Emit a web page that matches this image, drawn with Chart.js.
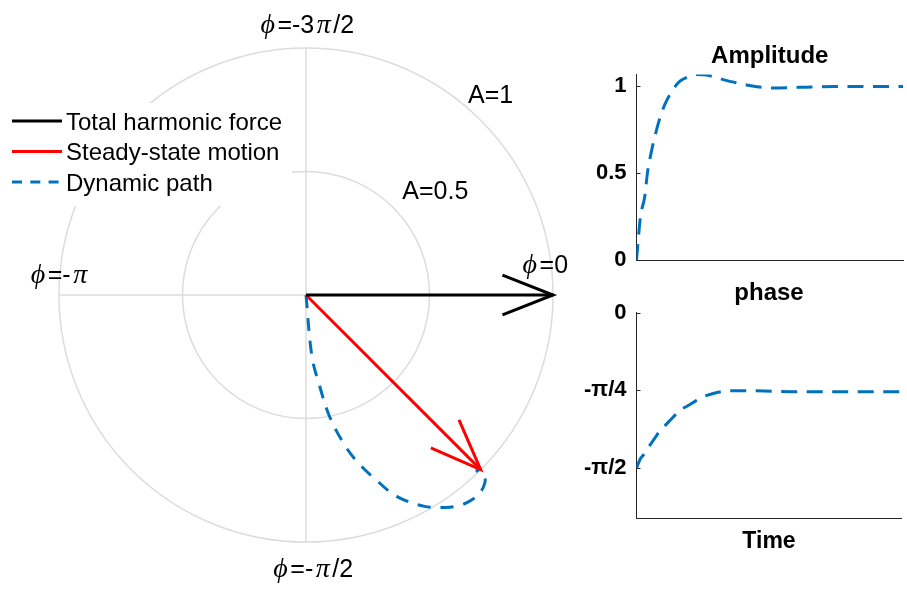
<!DOCTYPE html>
<html>
<head>
<meta charset="utf-8">
<script src="https://cdn.jsdelivr.net/npm/chart.js@4.4.0/dist/chart.umd.min.js"></script>
<style>
  html, body { margin: 0; padding: 0; background: #fff; }
  #wrap { position: relative; width: 907px; height: 591px; overflow: hidden; background: #fff; }
  #wrap canvas { position: absolute; }
  #polar { left: 0; top: 0; }
  #amp { left: 560px; top: 30px; }
  #phs { left: 560px; top: 275px; }
</style>
</head>
<body>
<div id="wrap">
  <canvas id="polar" width="600" height="591"></canvas>
  <canvas id="amp" width="347" height="270"></canvas>
  <canvas id="phs" width="347" height="316"></canvas>
</div>
<script>
// ---- data ---------------------------------------------------------------
const time      = [0, 0.15, 0.31, 0.41, 0.56, 0.69, 0.84, 1.06, 1.37, 1.63, 1.95, 2.25, 2.63, 3.0, 3.32, 3.8, 4.25, 5.13, 6.13, 7.39, 8.6, 10];
const amplitude = [0, 0.25, 0.365, 0.50, 0.625, 0.711, 0.798, 0.894, 0.981, 1.029, 1.055, 1.067, 1.064, 1.05, 1.035, 1.018, 1.004, 0.99, 0.994, 0.998, 0.999, 0.999];
const phase     = [-1.571, -1.475, -1.425, -1.38, -1.32, -1.27, -1.21, -1.148, -1.06, -0.99, -0.94, -0.89, -0.84, -0.81, -0.795, -0.79, -0.79, -0.795, -0.80, -0.80, -0.80, -0.80];

const forceAmp = [1];
const forcePhase = [0];
const steadyAmp = [1];
const steadyPhase = [-Math.PI / 4];

const seriesNames = ['Total harmonic force', 'Steady-state motion', 'Dynamic path'];

const ringRadii  = [0.5, 1];
const ringLabels = ['A=0.5', 'A=1'];
const spokeAngles = [0, -Math.PI / 2, -Math.PI, -3 * Math.PI / 2];
const spokeLabels = ['ϕ=0', 'ϕ=-π/2', 'ϕ=-π', 'ϕ=-3π/2'];

const ampTickValues = [0, 0.5, 1];
const ampTickLabels = ['0', '0.5', '1'];
const phaseTickValues = [0, -Math.PI / 4, -Math.PI / 2];
const phaseTickLabels = ['0', '-π/4', '-π/2'];

// ---- styling ------------------------------------------------------------
const BLUE = '#0072BD', RED = '#FF0000', BLACK = '#000000';
const GRID = '#dcdcdc', AXIS = '#262626';
const SANS = "'Liberation Sans', Arial, Helvetica, sans-serif";
const SERIF = "'Liberation Serif', 'DejaVu Serif', serif";
const HEAD_LEN = 0.22, HEAD_ANGLE = 0.375;   // arrowhead barb length (data units) and half-angle

// offsets (px) of the text labels from their anchor points
const spokeLabelOffset = [[-9, -31.5], [6, 0], [0, -21], [0, 0]];
const spokeLabelRadius = [1, 1.105, 1, 1.099];
const ringLabelOffset = [[42, -18], [10, -26]];

// ---- helpers ------------------------------------------------------------
const toXY = (a, p) => ({ x: a * Math.cos(p), y: a * Math.sin(p) });

function headPoints(a, p) {
  const tip = toXY(a, p);
  const b1 = { x: tip.x - HEAD_LEN * Math.cos(p + HEAD_ANGLE), y: tip.y - HEAD_LEN * Math.sin(p + HEAD_ANGLE) };
  const b2 = { x: tip.x - HEAD_LEN * Math.cos(p - HEAD_ANGLE), y: tip.y - HEAD_LEN * Math.sin(p - HEAD_ANGLE) };
  return [b1, tip, b2];
}

// split a label into runs; greek letters are set in an italic serif face
function runs(str) {
  const out = [];
  for (const ch of str) {
    const g = /[ϕπ]/.test(ch);
    if (out.length && out[out.length - 1].g === g) out[out.length - 1].t += ch;
    else out.push({ t: ch, g });
  }
  return out;
}
function drawRich(ctx, str, cx, cy, size, greekSize, greekPad) {
  const parts = runs(str);
  const fonts = parts.map(p => p.g ? `italic ${greekSize}px ${SERIF}` : `${size}px ${SANS}`);
  const widths = parts.map((p, i) => {
    ctx.font = fonts[i];
    return ctx.measureText(p.t).width + (p.g ? 2 * greekPad : 0);
  });
  const w = widths.reduce((s, v) => s + v, 0);
  let x = cx - w / 2;
  ctx.textAlign = 'left';
  ctx.textBaseline = 'alphabetic';
  ctx.fillStyle = BLACK;
  parts.forEach((p, i) => {
    ctx.font = fonts[i];
    ctx.fillText(p.t, x + (p.g ? greekPad : 0), cy + size * 0.36);
    x += widths[i];
  });
}

// ---- polar (phasor) diagram --------------------------------------------
const polarGrid = {
  id: 'polarGrid',
  beforeDatasetsDraw(chart) {
    const { ctx, scales: { x, y } } = chart;
    const cx = x.getPixelForValue(0), cy = y.getPixelForValue(0);
    ctx.save();
    ctx.strokeStyle = GRID;
    ctx.lineWidth = 1.5;
    spokeAngles.forEach(a => {
      const p = toXY(1, a);
      ctx.beginPath();
      ctx.moveTo(cx, cy);
      ctx.lineTo(x.getPixelForValue(p.x), y.getPixelForValue(p.y));
      ctx.stroke();
    });
    ringRadii.forEach(r => {
      const R = x.getPixelForValue(r) - cx;
      ctx.beginPath();
      ctx.arc(cx, cy, R, 0, Math.PI * 2);
      ctx.stroke();
    });
    ctx.restore();
  },
  afterDatasetsDraw(chart) {
    const { ctx, scales: { x, y } } = chart;
    ctx.save();
    // ring labels
    ringRadii.forEach((r, i) => {
      const p = toXY(r, Math.PI / 4);
      const [dx, dy] = ringLabelOffset[i];
      drawRich(ctx, ringLabels[i], x.getPixelForValue(p.x) + dx, y.getPixelForValue(p.y) + dy, 25, 25, 0);
    });
    // phase labels
    spokeAngles.forEach((a, i) => {
      const p = toXY(spokeLabelRadius[i], a);
      const [dx, dy] = spokeLabelOffset[i];
      drawRich(ctx, spokeLabels[i], x.getPixelForValue(p.x) + dx, y.getPixelForValue(p.y) + dy, 25, 28, 2.5);
    });
    // legend, boxed in white over the grid
    const items = chart.data.datasets.filter(d => d.inLegend);
    ctx.fillStyle = '#fff';
    ctx.fillRect(5, 103, 287, 103);
    items.forEach((d, i) => {
      const ly = 121 + i * 30.5;
      ctx.strokeStyle = d.borderColor;
      ctx.lineWidth = 3;
      ctx.setLineDash(d.legendDash || []);
      ctx.beginPath();
      ctx.moveTo(12, ly);
      ctx.lineTo(62, ly);
      ctx.stroke();
      ctx.setLineDash([]);
      ctx.fillStyle = BLACK;
      ctx.font = `24px ${SANS}`;
      ctx.textAlign = 'left';
      ctx.textBaseline = 'alphabetic';
      ctx.fillText(d.label, 66, ly + 8.8);
    });
    ctx.restore();
  }
};

const lineDs = (extra) => Object.assign({
  showLine: true, pointRadius: 0, borderWidth: 3, fill: false,
  borderCapStyle: 'butt', borderJoinStyle: 'miter', tension: 0
}, extra);

new Chart(document.getElementById('polar'), {
  type: 'scatter',
  data: {
    datasets: [
      lineDs({ label: seriesNames[0], inLegend: true, borderColor: BLACK,
               data: [{ x: 0, y: 0 }, toXY(forceAmp[0], forcePhase[0])] }),
      lineDs({ label: 'force head', borderColor: BLACK, data: headPoints(forceAmp[0], forcePhase[0]) }),
      lineDs({ label: seriesNames[1], inLegend: true, borderColor: RED,
               data: [{ x: 0, y: 0 }, toXY(steadyAmp[0], steadyPhase[0])] }),
      lineDs({ label: 'steady head', borderColor: RED, data: headPoints(steadyAmp[0], steadyPhase[0]) }),
      lineDs({ label: seriesNames[2], inLegend: true, borderColor: BLUE, borderDash: [13, 10],
               legendDash: [10, 8.3], tension: 0.35,
               data: amplitude.map((a, i) => toXY(a, phase[i])) })
    ]
  },
  options: {
    responsive: false,
    animation: false,
    layout: { padding: { left: 14.5, right: 2.5, top: 1.1, bottom: 2.1 } },
    scales: {
      x: { type: 'linear', min: -1.18, max: 1.18, display: false },
      y: { type: 'linear', min: -1.19, max: 1.19, display: false }
    },
    plugins: { legend: { display: false }, tooltip: { enabled: false } }
  },
  plugins: [polarGrid]
});

// ---- time histories ------------------------------------------------------
const innerTicks = {
  id: 'innerTicks',
  afterDraw(chart) {
    const { ctx, scales: { x, y } } = chart;
    ctx.save();
    ctx.strokeStyle = AXIS;
    ctx.lineWidth = 1;
    y.ticks.forEach(t => {
      const py = Math.round(y.getPixelForValue(t.value)) + 0.5;
      ctx.beginPath();
      ctx.moveTo(x.left, py);
      ctx.lineTo(x.left + 4, py);
      ctx.stroke();
    });
    ctx.restore();
  }
};

function sideChart(id, cfg) {
  return new Chart(document.getElementById(id), {
    type: 'scatter',
    data: {
      datasets: [{
        data: time.map((t, i) => ({ x: t, y: cfg.values[i] })),
        showLine: true, pointRadius: 0, borderWidth: 3, borderColor: BLUE,
        borderDash: [16, 9.5], cubicInterpolationMode: 'monotone', fill: false
      }]
    },
    options: {
      responsive: false,
      animation: false,
      layout: { padding: cfg.padding },
      scales: {
        x: {
          type: 'linear', min: 0, max: 10,
          grid: { display: false, drawTicks: false },
          border: { display: true, color: AXIS, width: 1 },
          ticks: { display: false },
          title: cfg.xTitle,
          afterFit: s => { s.height = cfg.xHeight; }
        },
        y: {
          type: 'linear', min: cfg.min, max: cfg.max,
          grid: { display: false, drawTicks: false },
          border: { display: true, color: AXIS, width: 1 },
          afterBuildTicks: s => { s.ticks = cfg.tickValues.map(v => ({ value: v })); },
          ticks: {
            padding: 10, color: BLACK,
            font: { family: SANS, size: 22, weight: 'bold' },
            callback: (v, i) => cfg.tickLabels[i]
          },
          afterFit: s => { s.width = 76.5; }
        }
      },
      plugins: {
        legend: { display: false },
        tooltip: { enabled: false },
        title: {
          display: true, text: cfg.title, color: BLACK, fullSize: false,
          font: { family: SANS, size: 24, weight: 'bold' },
          padding: cfg.titlePadding
        }
      }
    },
    plugins: [innerTicks]
  });
}

sideChart('amp', {
  title: 'Amplitude', values: amplitude,
  min: 0, max: 1.067,
  tickValues: ampTickValues, tickLabels: ampTickLabels,
  padding: { left: 0, right: 4, top: 0, bottom: 0 },
  titlePadding: { top: 12.2, bottom: 3.6 },
  xHeight: 40,
  xTitle: { display: false }
});

sideChart('phs', {
  title: 'phase', values: phase,
  min: -2.085, max: 0,
  tickValues: phaseTickValues, tickLabels: phaseTickLabels,
  padding: { left: 0, right: 5.5, top: 0, bottom: 0 },
  titlePadding: { top: 3.9, bottom: 4.9 },
  xHeight: 72.2,
  xTitle: {
    display: true, text: 'Time', color: BLACK,
    font: { family: SANS, size: 23, weight: 'bold' },
    padding: { top: 0, bottom: 35.9 }
  }
});
</script>
</body>
</html>
